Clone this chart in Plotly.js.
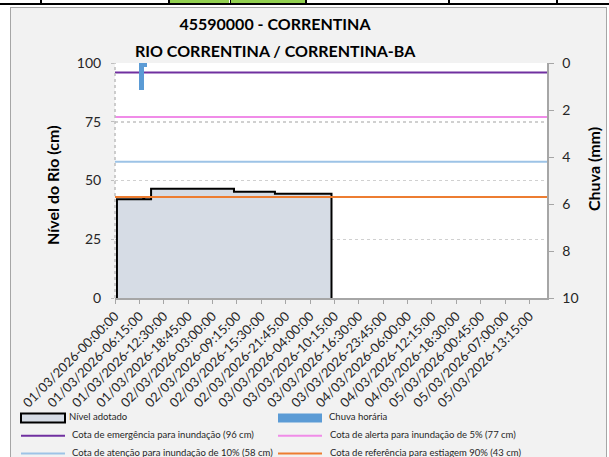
<!DOCTYPE html>
<html>
<head>
<meta charset="utf-8">
<script src="https://cdn.plot.ly/plotly-3.0.1.min.js"></script>
<style>
  html, body { margin: 0; padding: 0; background: #ffffff; }
  #page { position: relative; width: 609px; height: 457px; overflow: hidden; background: #ffffff; }
  .hline { position: absolute; left: 0; top: 3px; width: 609px; height: 2px; background: #000; }
  .vline { position: absolute; top: 0; width: 1.5px; height: 4px; background: #000; }
  .green { position: absolute; top: 0; height: 3px; background: #92D050; }
  #frame { position: absolute; left: 10px; top: 7px; width: 595px; height: 460px; border: 1px solid #A6A6A6; background: #F2F2F2; }
  #chart { width: 595px; height: 460px; }
</style>
</head>
<body>
<div id="page">
  <div class="green" style="left:169px;width:60px;"></div>
  <div class="green" style="left:231px;width:74px;"></div>
  <div class="vline" style="left:40px;"></div>
  <div class="vline" style="left:168px;"></div>
  <div class="vline" style="left:229.5px;"></div>
  <div class="vline" style="left:305px;"></div>
  <div class="vline" style="left:448px;"></div>
  <div class="vline" style="left:556px;"></div>
  <div class="hline"></div>
  <div id="frame"><div id="chart"></div></div>
</div>
<script>
// ---- Data ----
// x-axis tick labels (one every 25 readings of 15 minutes)
const tickLabels = [
  "01/03/2026-00:00:00", "01/03/2026-06:15:00", "01/03/2026-12:30:00", "01/03/2026-18:45:00",
  "02/03/2026-03:00:00", "02/03/2026-09:15:00", "02/03/2026-15:30:00", "02/03/2026-21:45:00",
  "03/03/2026-04:00:00", "03/03/2026-10:15:00", "03/03/2026-16:30:00", "03/03/2026-23:45:00",
  "04/03/2026-06:00:00", "04/03/2026-12:15:00", "04/03/2026-18:30:00", "05/03/2026-00:45:00",
  "05/03/2026-07:00:00", "05/03/2026-13:15:00"
];
const tickStep = 25;          // readings between labels
const totalReadings = 443;    // readings on the category axis

// River level (cm), step changes: reading index -> value
const levelIndex = [2, 2, 29, 30, 37, 122, 164, 222];
const levelValue = [0, 42, 42.6, 42, 46.5, 45.2, 44.4, 0];

// Hourly rain (mm)
const rainIndex = [27, 31];
const rainValue = [1.15, 0.18];
const rainWidth = [5.5, 2.8];

// Reference levels (cm)
const refNames = [
  "Cota de emergência para inundação (96 cm)",
  "Cota de alerta para inundação de 5% (77 cm)",
  "Cota de atenção para inundação de 10% (58 cm)",
  "Cota de referência para estiagem 90% (43 cm)"
];
const refValues = [96, 77, 58, 43];
const refColors = ["#7030A0", "#F08CE8", "#9DC3E6", "#ED7D31"];

// Text
const titleLine1 = "45590000 - CORRENTINA";
const titleLine2 = "RIO CORRENTINA / CORRENTINA-BA";
const yTitle = "Nível do Rio (cm)";
const y2Title = "Chuva (mm)";
const levelName = "Nível adotado";
const rainName = "Chuva horária";

// ---- Geometry helpers (page pixels -> paper fractions) ----
const PLOT_L = 115, PLOT_W = 432, PLOT_B = 298, PLOT_H = 235;
const px = X => (X - PLOT_L) / PLOT_W;
const py = Y => (PLOT_B - Y) / PLOT_H;

const FONT = "Lato, 'Open Sans', sans-serif";
const tickVals = tickLabels.map((_, i) => i * tickStep);
const traces = [];

traces.push({
  type: "scatter", mode: "lines", name: levelName, showlegend: false,
  x: levelIndex, y: levelValue, line: { color: "#000000", width: 2, shape: "hv" },
  fill: "tozeroy", fillcolor: "#D6DCE5", xaxis: "x", yaxis: "y"
});
refValues.forEach((v, i) => {
  traces.push({
    type: "scatter", mode: "lines", name: refNames[i], showlegend: false,
    x: [0, totalReadings], y: [v, v],
    line: { color: refColors[i], width: 2 }, xaxis: "x", yaxis: "y"
  });
});
traces.push({
  type: "bar", name: rainName, showlegend: false, x: rainIndex, y: rainValue, width: rainWidth,
  marker: { color: "#5B9BD5", line: { width: 0 } }, xaxis: "x", yaxis: "y2"
});

// ---- Legend (drawn as shapes + annotations to match the 2-column box legend) ----
const legendFont = { family: FONT, size: 9.5, color: "#262626" };
const legendItems = [
  { kind: "box",  fill: "#D6DCE5", color: "#000000", name: levelName,   x: 21, y: 418, tx: 67 },
  { kind: "rect", fill: "#5B9BD5", color: "#5B9BD5", name: rainName,    x: 278, y: 418, tx: 327 },
  { kind: "line", color: refColors[0], name: refNames[0], x: 21,  y: 435.7, tx: 70 },
  { kind: "line", color: refColors[1], name: refNames[1], x: 278, y: 435.7, tx: 328 },
  { kind: "line", color: refColors[2], name: refNames[2], x: 21,  y: 453.5, tx: 70 },
  { kind: "line", color: refColors[3], name: refNames[3], x: 278, y: 453.5, tx: 328 }
];
const shapes = [{
  type: "line", xref: "paper", yref: "paper", x0: 0, x1: 0, y0: 0, y1: 1,
  line: { color: "#BFBFBF", width: 1.5, dash: "dot" }
}];
const annotations = [
  { text: titleLine2, showarrow: false, xref: "paper", yref: "paper",
    x: px(275), y: py(50.5), xanchor: "center", yanchor: "middle",
    font: { family: FONT, size: 16, color: "#000000", weight: "bold" } },
  { text: yTitle, showarrow: false, xref: "paper", yref: "paper", textangle: -90,
    x: px(52), y: py(185), xanchor: "center", yanchor: "middle",
    font: { family: FONT, size: 16, color: "#000000", weight: "bold" } },
  { text: y2Title, showarrow: false, xref: "paper", yref: "paper", textangle: -90,
    x: px(593), y: py(169), xanchor: "center", yanchor: "middle",
    font: { family: FONT, size: 16, color: "#000000", weight: "bold" } }
];
legendItems.forEach(it => {
  if (it.kind === "line") {
    shapes.push({ type: "line", xref: "paper", yref: "paper",
      x0: px(it.x), x1: px(it.x + 44), y0: py(it.y), y1: py(it.y),
      line: { color: it.color, width: 2 } });
  } else {
    shapes.push({ type: "rect", xref: "paper", yref: "paper",
      x0: px(it.x), x1: px(it.x + 44), y0: py(it.y - 4.5), y1: py(it.y + 4.5),
      fillcolor: it.fill, line: { color: it.color, width: it.kind === "box" ? 2 : 0 } });
  }
  annotations.push({ text: it.name, showarrow: false, xref: "paper", yref: "paper",
    x: px(it.tx), y: py(it.y - 1.3), xanchor: "left", yanchor: "middle", font: legendFont });
});

const layout = {
  width: 595, height: 460,
  margin: { l: 104, r: 59, t: 55, b: 170 },
  paper_bgcolor: "#F2F2F2", plot_bgcolor: "#FFFFFF",
  font: { family: FONT, color: "#262626" },
  showlegend: false,
  title: {
    text: titleLine1,
    font: { family: FONT, size: 16, color: "#000000", weight: "bold" },
    xref: "container", x: 264 / 595, xanchor: "center",
    yref: "container", y: 1 - 16 / 460, yanchor: "middle"
  },
  annotations: annotations,
  shapes: shapes,
  xaxis: {
    range: [0, totalReadings], tickmode: "array", tickvals: tickVals, ticktext: tickLabels,
    tickangle: -45, tickfont: { size: 13, color: "#262626" },
    showgrid: false, zeroline: false, showline: true, linecolor: "#A6A6A6", linewidth: 1.5,
    ticks: "outside", ticklen: 4, tickcolor: "#A6A6A6", fixedrange: true
  },
  yaxis: {
    range: [0, 100], dtick: 25, tickfont: { size: 14, color: "#262626" },
    showgrid: true, gridcolor: "#D0D0D0", griddash: "dot", gridwidth: 1.5,
    zeroline: false, showline: false, ticks: "outside", ticklen: 3, tickcolor: "#BFBFBF",
    ticklabelstandoff: 7, fixedrange: true
  },
  yaxis2: {
    overlaying: "y", side: "right", range: [10, 0], dtick: 2,
    tickfont: { size: 14, color: "#262626" }, showgrid: false, zeroline: false,
    showline: true, linecolor: "#A6A6A6", linewidth: 1.5,
    ticks: "outside", ticklen: 5, tickcolor: "#A6A6A6", ticklabelstandoff: 6,
    fixedrange: true
  },
  bargap: 0
};

Plotly.newPlot("chart", traces, layout, { staticPlot: true, displayModeBar: false });
</script>
</body>
</html>
